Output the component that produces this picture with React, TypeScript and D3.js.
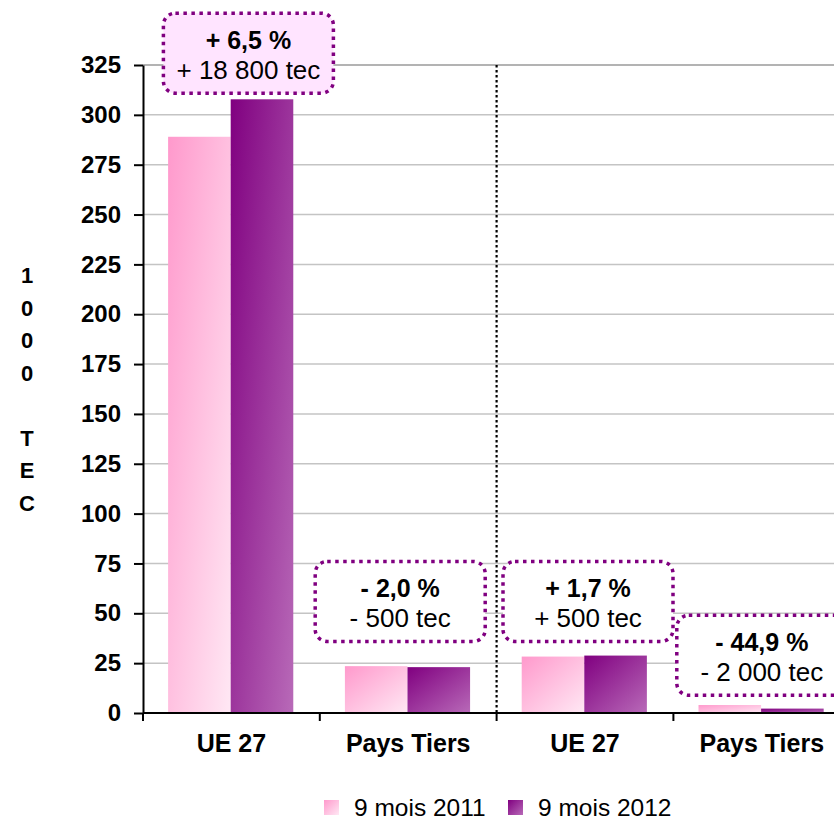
import * as d3 from "d3";
import { useEffect, useRef } from "react";

const categories = ["UE 27", "Pays Tiers", "UE 27", "Pays Tiers"];
const series = ["9 mois 2011", "9 mois 2012"];
const values2011 = [289, 23.5, 28.3, 4.0];
const values2012 = [307.8, 23.0, 28.8, 2.2];
const yTicks = [0, 25, 50, 75, 100, 125, 150, 175, 200, 225, 250, 275, 300, 325];
const pctLabels = ["+ 6,5 %", "- 2,0 %", "+ 1,7 %", "- 44,9 %"];
const tecLabels = ["+ 18 800 tec", "- 500 tec", "+ 500 tec", "- 2 000 tec"];
// top of each call-out box, in chart units, and its sideways nudge
const boxTop = [351, 76, 76, 49];
const boxShift = [17, -8, 3, 0];
const yTitle = ["1", "0", "0", "0", "", "T", "E", "C"];

const W = 834;
const H = 822;
const font = "'Liberation Sans', Arial, sans-serif";

const App = () => {
  const svgRef = useRef<SVGSVGElement | null>(null);

  useEffect(() => {
    const svg = d3.select(svgRef.current);
    svg.selectAll("*").remove();

    const defs = svg.append("defs");
    const grads: [string, string, string][] = [
      ["g2011", "#ff99cc", "#ffe8f4"],
      ["g2012", "#800080", "#b86ab8"],
    ];
    grads.forEach(([id, c0, c1]) => {
      const lg = defs.append("linearGradient").attr("id", id)
        .attr("x1", 0).attr("y1", 0).attr("x2", 1).attr("y2", 1);
      lg.append("stop").attr("offset", 0).attr("stop-color", c0);
      lg.append("stop").attr("offset", 1).attr("stop-color", c1);
    });

    const left = 143;
    const top = 65;
    const bottom = 713;

    const y = d3.scaleLinear().domain([0, 325]).range([bottom, top]);
    const x0 = d3.scaleBand<number>()
      .domain(d3.range(categories.length))
      .range([left, left + 4 * 176.8]);
    const bw = x0.bandwidth();
    const x1 = d3.scaleBand<number>().domain([0, 1]).range([bw * 0.142, bw * 0.85]);

    // gridlines
    svg.append("g").selectAll("line")
      .data(yTicks.filter(t => t > 0))
      .enter().append("line")
      .attr("x1", left).attr("x2", W)
      .attr("y1", d => y(d)).attr("y2", d => y(d))
      .attr("stroke", d => (d === 325 ? "#9a9a9a" : "#c4c4c4"))
      .attr("stroke-width", 1.5);

    // dotted separator between the two groups
    svg.append("line")
      .attr("x1", x0(2)!).attr("x2", x0(2)!)
      .attr("y1", top).attr("y2", bottom)
      .attr("stroke", "#000").attr("stroke-width", 2.2)
      .attr("stroke-dasharray", "2.5 2.5");

    // bars
    const allVals = [values2011, values2012];
    allVals.forEach((vals, s) => {
      svg.append("g").selectAll("rect")
        .data(vals)
        .enter().append("rect")
        .attr("x", (d, i) => x0(i)! + x1(s)!)
        .attr("width", x1.bandwidth())
        .attr("y", d => y(d))
        .attr("height", d => bottom - y(d))
        .attr("fill", `url(#g${s === 0 ? 2011 : 2012})`);
    });

    // call-out boxes
    const boxes = svg.append("g").selectAll("g")
      .data(d3.range(categories.length))
      .enter().append("g")
      .attr("transform", i => `translate(${x0(i)! + bw / 2 + boxShift[i]},${y(boxTop[i])})`);
    boxes.append("rect")
      .attr("x", -85).attr("y", 0)
      .attr("width", 170).attr("height", 80)
      .attr("rx", 12)
      .attr("fill", i => (i === 0 ? "#ffe4ff" : "#ffffff"))
      .attr("stroke", "#800080")
      .attr("stroke-width", 3.5)
      .attr("stroke-dasharray", "3.5 4.5");
    boxes.append("text")
      .attr("y", 36)
      .attr("text-anchor", "middle")
      .attr("font-family", font).attr("font-size", 25).attr("font-weight", "bold")
      .text(i => pctLabels[i]);
    boxes.append("text")
      .attr("y", 66)
      .attr("text-anchor", "middle")
      .attr("font-family", font).attr("font-size", 26)
      .text(i => tecLabels[i]);

    // y axis
    const yAxis = svg.append("g")
      .attr("transform", `translate(${left},0)`)
      .call(d3.axisLeft(y).tickValues(yTicks).tickSize(9).tickSizeOuter(0).tickPadding(13));
    yAxis.selectAll("path, line").attr("stroke", "#000").attr("stroke-width", 2);
    yAxis.selectAll("text")
      .attr("font-family", font).attr("font-size", 24).attr("font-weight", "bold")
      .attr("fill", "#000");

    // x axis
    svg.append("line")
      .attr("x1", left).attr("x2", W)
      .attr("y1", bottom).attr("y2", bottom)
      .attr("stroke", "#000").attr("stroke-width", 2);
    svg.append("g").selectAll("line")
      .data(d3.range(categories.length))
      .enter().append("line")
      .attr("x1", i => x0(i)!).attr("x2", i => x0(i)!)
      .attr("y1", bottom).attr("y2", bottom + 8)
      .attr("stroke", "#000").attr("stroke-width", 2);
    svg.append("g").selectAll("text")
      .data(categories)
      .enter().append("text")
      .attr("x", (d, i) => x0(i)! + bw / 2)
      .attr("y", 752)
      .attr("text-anchor", "middle")
      .attr("font-family", font).attr("font-size", 25).attr("font-weight", "bold")
      .text(d => d);

    // y title, stacked letters
    svg.append("g").selectAll("text")
      .data(yTitle)
      .enter().append("text")
      .attr("x", 27)
      .attr("y", (d, i) => 283 + i * 32.5)
      .attr("text-anchor", "middle")
      .attr("font-family", font).attr("font-size", 22).attr("font-weight", "bold")
      .text(d => d);

    // legend
    const legendX = [324, 508];
    const lg = svg.append("g").selectAll("g")
      .data(series)
      .enter().append("g")
      .attr("transform", (d, i) => `translate(${legendX[i]},800)`);
    lg.append("rect")
      .attr("width", 15).attr("height", 15)
      .attr("fill", (d, i) => `url(#g${i === 0 ? 2011 : 2012})`);
    lg.append("text")
      .attr("x", 30).attr("y", 16)
      .attr("font-family", font).attr("font-size", 24.5)
      .text(d => d);
  }, []);

  return (
    <svg ref={svgRef} width={W} height={H}
      style={{ position: "absolute", left: 0, top: 0, background: "#fff" }} />
  );
};

export default App;
